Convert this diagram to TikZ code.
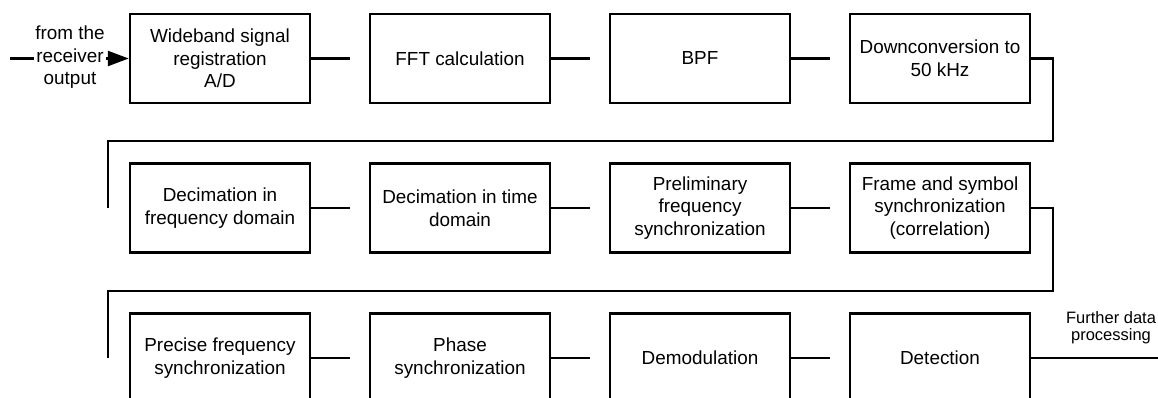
\documentclass[tikz,border=0pt]{standalone}
\usepackage{fontspec}
\setmainfont{Liberation Sans}
\usetikzlibrary{arrows.meta,calc}
\begin{document}
\begin{tikzpicture}[x=1pt,y=-1pt,
  blk/.style={draw,line width=2.5pt,minimum width=180pt,minimum height=89pt,inner sep=0pt,align=center,
    font=\fontsize{18.9}{22.7}\selectfont},
  wire/.style={line width=2.5pt},
  lbl/.style={align=center,inner sep=1pt,font=\fontsize{18.9}{22.5}\selectfont},
  small/.style={align=center,inner sep=0pt,font=\fontsize{16.5}{17}\selectfont}]
\useasboundingbox (0,0) rectangle (1158,398);
\clip (0,0) rectangle (1158,398);
% row 1
\node[blk] (b1) at (220,58.5) {Wideband signal\\registration\\A/D};
\node[blk] (b2) at (460,58.5) {FFT calculation};
\node[blk] (b3) at (700,58.5) {BPF};
\node[blk] (b4) at (940,58.5) {Downconversion to\\50 kHz};
% row 2
\node[blk] (b5) at (220,208) {Decimation in\\frequency domain};
\node[blk] (b6) at (460,208) {Decimation in time\\domain};
\node[blk] (b7) at (700,208) {Preliminary\\frequency\\synchronization};
\node[blk] (b8) at (940,208) {Frame and symbol\\synchronization\\(correlation)};
% row 3
\node[blk] (b9) at (220,358) {Precise frequency\\synchronization};
\node[blk] (b10) at (460,358) {Phase\\synchronization};
\node[blk] (b11) at (700,358) {Demodulation};
\node[blk] (b12) at (940,358) {Detection};
% input
\coordinate (in) at (10,58.5);
\draw[wire,-{Triangle[length=21pt,width=15pt]}] (in) -- (b1.west);
\node[lbl,fill=white] (inl) at (70,57.5) {from the\\receiver\\output};
% stubs
\foreach \a in {b1,b2,b3,b5,b6,b7,b9,b10,b11}{
  \draw[wire] (\a.east) -- ++(39,0) coordinate (s\a);
}
% feedback row 1 -> 2
\coordinate (r1) at (1053,141);
\coordinate (l1) at (108,141);
\coordinate (e1) at (108,208);
\draw[wire] (b4.east) -| (r1) -- (l1) -- (e1);
% feedback row 2 -> 3
\coordinate (r2) at (1053,291);
\coordinate (l2) at (108,291);
\coordinate (e2) at (108,358);
\draw[wire] (b8.east) -| (r2) -- (l2) -- (e2);
% output
\coordinate (out) at (1158,358);
\draw[wire] (b12.east) -- (out);
\node[small] (outl) at (1111,328) {Further data\\processing};
\end{tikzpicture}
\end{document}
